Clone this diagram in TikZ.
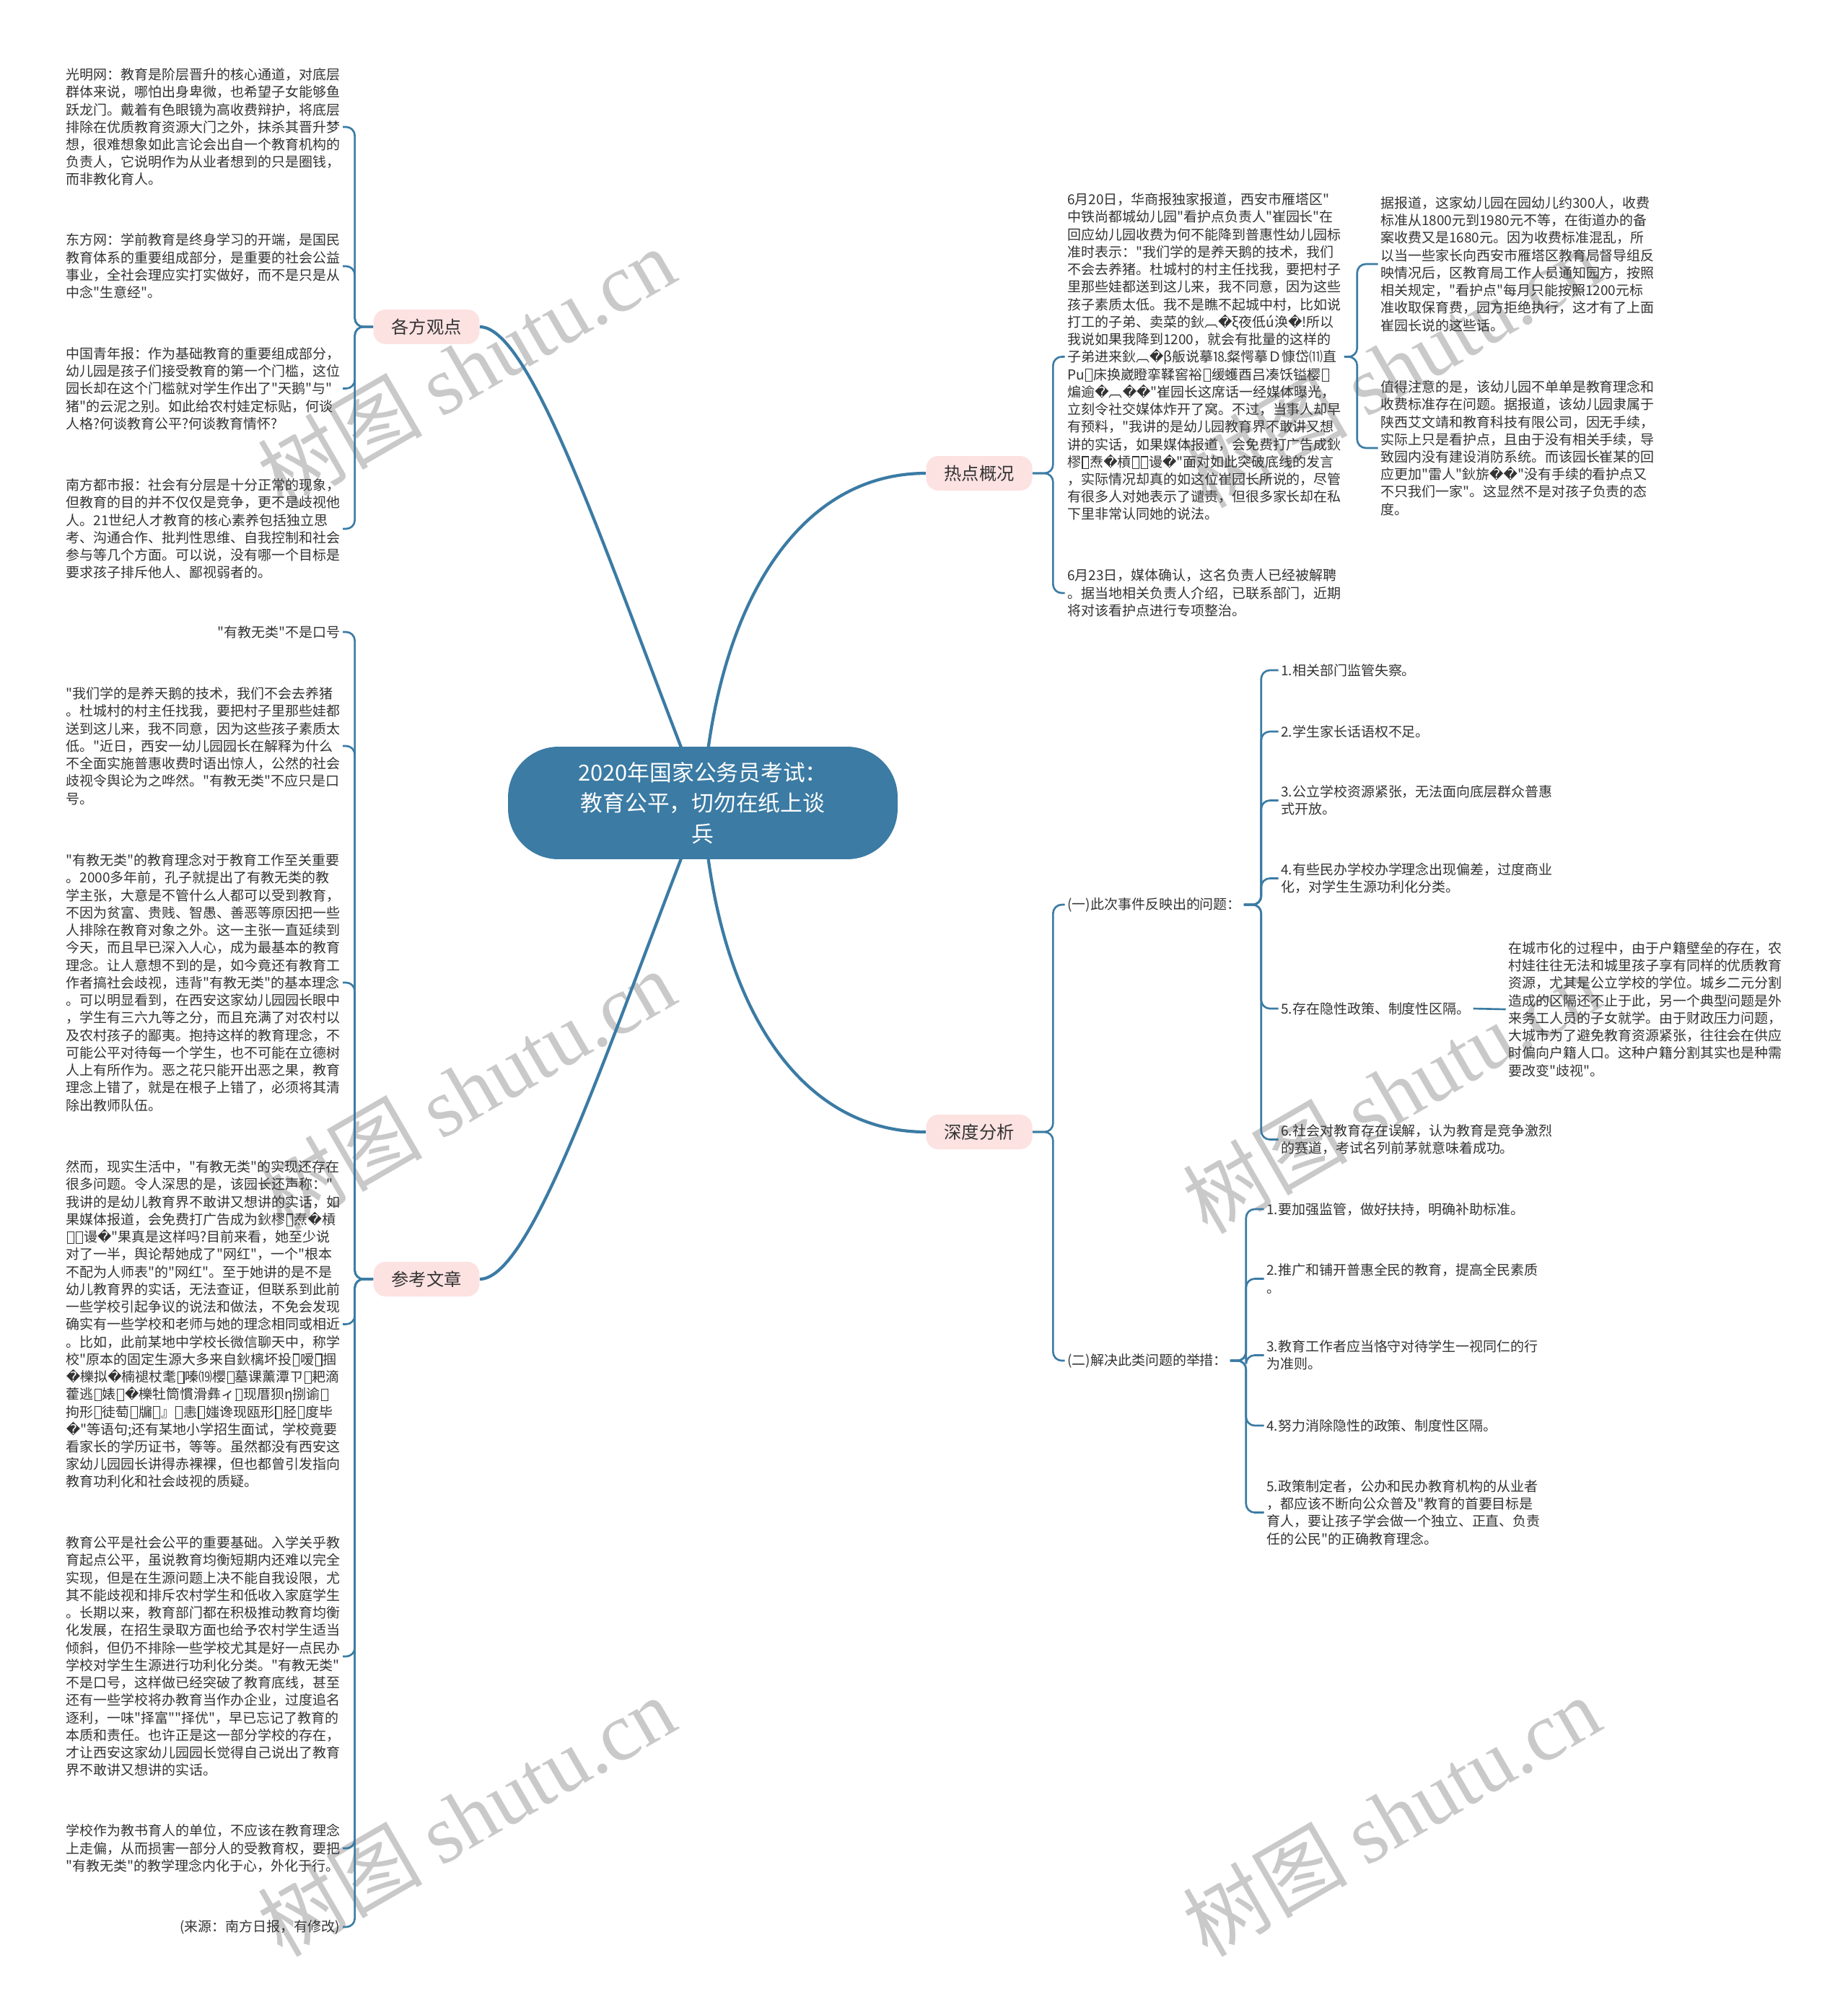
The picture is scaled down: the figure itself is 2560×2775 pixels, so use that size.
\documentclass[tikz,border=0pt]{standalone}
\usepackage{fontspec}
\setmainfont{Noto Sans CJK SC}[Ligatures=TeXOff]
\newfontfamily\repfont{DejaVu Sans}
\newfontfamily\wmlatin{Liberation Serif}
\usetikzlibrary{backgrounds}
\definecolor{ink}{HTML}{3B7BA4}
\definecolor{petal}{HTML}{FDE2E2}
\definecolor{txt}{HTML}{333333}
\newcommand\bad{{\repfont\symbol{"FFFD}}}
\newcommand\tofu{{\hspace{0.06em}\setlength\fboxsep{0pt}\setlength\fboxrule{0.06em}\raisebox{-0.08em}{\fbox{\rule{0pt}{0.8em}\rule{0.4em}{0pt}}}\hspace{0.06em}}}
\tikzset{
  root/.style={fill=ink, text=white, rounded corners=1.4cm, minimum width=10.8cm, minimum height=3.12cm, align=center, font=\fontsize{17.5pt}{24.2pt}\selectfont},
  topic/.style={fill=petal, text=txt, rounded corners=0.34cm, minimum width=2.94cm, minimum height=0.96cm, inner sep=0pt, font=\fontsize{13.8pt}{16pt}\selectfont},
  leaf/.style={text=txt, align=left, inner xsep=2pt, inner ysep=1pt, font=\fontsize{10.8pt}{13.8pt}\selectfont},
  link/.style={draw=ink, line width=2.4pt},
  hook/.style={draw=ink, line width=1.5pt, rounded corners=0.24cm},
  wmark/.style={text=black!21, rotate=30, font=\fontsize{65pt}{65pt}\selectfont}
}
\begin{document}
\begin{tikzpicture}[x=0.02cm, y=-0.02cm]
\useasboundingbox (0,0) rectangle (2560,2775);

\node[root] (root) at (974,1113) {2020年国家公务员考试：\\教育公平，切勿在纸上谈\\兵};

\node[topic] (gd) at (591,453) {各方观点};
\node[topic] (ck) at (591,1773) {参考文章};
\node[topic] (rd) at (1357,656) {热点概况};
\node[topic] (sd) at (1357,1569) {深度分析};

\node[leaf, anchor=west] (gf1) at (88,176) {光明网：教育是阶层晋升的核心通道，对底层\\
群体来说，哪怕出身卑微，也希望子女能够鱼\\
跃龙门。戴着有色眼镜为高收费辩护，将底层\\
排除在优质教育资源大门之外，抹杀其晋升梦\\
想，很难想象如此言论会出自一个教育机构的\\
负责人，它说明作为从业者想到的只是圈钱，\\
而非教化育人。};
\node[leaf, anchor=west] (gf2) at (88,369) {东方网：学前教育是终身学习的开端，是国民\\
教育体系的重要组成部分，是重要的社会公益\\
事业，全社会理应实打实做好，而不是只是从\\
中念"生意经"。};
\node[leaf, anchor=west] (gf3) at (88,538.5) {中国青年报：作为基础教育的重要组成部分，\\
幼儿园是孩子们接受教育的第一个门槛，这位\\
园长却在这个门槛就对学生作出了"天鹅"与"\\
猪"的云泥之别。如此给农村娃定标贴，何谈\\
人格?何谈教育公平?何谈教育情怀?};
\node[leaf, anchor=west] (gf4) at (88,733) {南方都市报：社会有分层是十分正常的现象，\\
但教育的目的并不仅仅是竞争，更不是歧视他\\
人。21世纪人才教育的核心素养包括独立思\\
考、沟通合作、批判性思维、自我控制和社会\\
参与等几个方面。可以说，没有哪一个目标是\\
要求孩子排斥他人、鄙视弱者的。};

\node[leaf, anchor=east] (ck1) at (475,876) {"有教无类"不是口号};
\node[leaf, anchor=west] (ck2) at (88,1034) {"我们学的是养天鹅的技术，我们不会去养猪\\
。杜城村的村主任找我，要把村子里那些娃都\\
送到这儿来，我不同意，因为这些孩子素质太\\
低。"近日，西安一幼儿园园长在解释为什么\\
不全面实施普惠收费时语出惊人，公然的社会\\
歧视令舆论为之哗然。"有教无类"不应只是口\\
号。};
\node[leaf, anchor=west] (ck3) at (88,1362) {"有教无类"的教育理念对于教育工作至关重要\\
。2000多年前，孔子就提出了有教无类的教\\
学主张，大意是不管什么人都可以受到教育，\\
不因为贫富、贵贱、智愚、善恶等原因把一些\\
人排除在教育对象之外。这一主张一直延续到\\
今天，而且早已深入人心，成为最基本的教育\\
理念。让人意想不到的是，如今竟还有教育工\\
作者搞社会歧视，违背"有教无类"的基本理念\\
。可以明显看到，在西安这家幼儿园园长眼中\\
，学生有三六九等之分，而且充满了对农村以\\
及农村孩子的鄙夷。抱持这样的教育理念，不\\
可能公平对待每一个学生，也不可能在立德树\\
人上有所作为。恶之花只能开出恶之果，教育\\
理念上错了，就是在根子上错了，必须将其清\\
除出教师队伍。};
\node[leaf, anchor=west] (ck4) at (88,1835.5) {然而，现实生活中，"有教无类"的实现还存在\\
很多问题。令人深思的是，该园长还声称："\\
我讲的是幼儿教育界不敢讲又想讲的实话，如\\
果媒体报道，会免费打广告成为鈥樛\tofu{}焘\bad{}槓\\
\tofu{}\tofu{}谩\bad{}"果真是这样吗?目前来看，她至少说\\
对了一半，舆论帮她成了"网红"，一个"根本\\
不配为人师表"的"网红"。至于她讲的是不是\\
幼儿教育界的实话，无法查证，但联系到此前\\
一些学校引起争议的说法和做法，不免会发现\\
确实有一些学校和老师与她的理念相同或相近\\
。比如，此前某地中学校长微信聊天中，称学\\
校"原本的固定生源大多来自鈥樆坏投\tofu{}嗳\tofu{}掴\\
\bad{}櫟拟\bad{}楠褪杖耄\tofu{}嗪⒆櫻\tofu{}墓课薰潭ㄗ\tofu{}耙滴\\
藿逃\tofu{}婊\tofu{}\bad{}櫟牡筒慣滑彝ィ\tofu{}现厝狈η捌谕\tofu{}\\
拘形\tofu{}徒萄\tofu{}牖\tofu{}』\tofu{}恚\tofu{}媸谗现瓯形\tofu{}胫\tofu{}度毕\\
\bad{}"等语句;还有某地小学招生面试，学校竟要\\
看家长的学历证书，等等。虽然都没有西安这\\
家幼儿园园长讲得赤裸裸，但也都曾引发指向\\
教育功利化和社会歧视的质疑。};
\node[leaf, anchor=west] (ck5) at (88,2296) {教育公平是社会公平的重要基础。入学关乎教\\
育起点公平，虽说教育均衡短期内还难以完全\\
实现，但是在生源问题上决不能自我设限，尤\\
其不能歧视和排斥农村学生和低收入家庭学生\\
。长期以来，教育部门都在积极推动教育均衡\\
化发展，在招生录取方面也给予农村学生适当\\
倾斜，但仍不排除一些学校尤其是好一点民办\\
学校对学生生源进行功利化分类。"有教无类"\\
不是口号，这样做已经突破了教育底线，甚至\\
还有一些学校将办教育当作办企业，过度追名\\
逐利，一味"择富""择优"，早已忘记了教育的\\
本质和责任。也许正是这一部分学校的存在，\\
才让西安这家幼儿园园长觉得自己说出了教育\\
界不敢讲又想讲的实话。};
\node[leaf, anchor=west] (ck6) at (88,2562) {学校作为教书育人的单位，不应该在教育理念\\
上走偏，从而损害一部分人的受教育权，要把\\
"有教无类"的教学理念内化于心，外化于行。};
\node[leaf, anchor=east] (ck7) at (475,2671) {(来源：南方日报，有修改)};

\node[leaf, anchor=west] (rd1) at (1475.5,494.5) {6月20日，华商报独家报道，西安市雁塔区"\\
中铁尚都城幼儿园"看护点负责人"崔园长"在\\
回应幼儿园收费为何不能降到普惠性幼儿园标\\
准时表示："我们学的是养天鹅的技术，我们\\
不会去养猪。杜城村的村主任找我，要把村子\\
里那些娃都送到这儿来，我不同意，因为这些\\
孩子素质太低。我不是瞧不起城中村，比如说\\
打工的子弟、卖菜的鈥︹\bad{}ξ夜低ú涣\bad{}!所以\\
我说如果我降到1200，就会有批量的这样的\\
子弟进来鈥︹\bad{}β舨说摹⒙粲愕摹Ｄ慷岱⑾直\\
Pu\tofu{}床换崴瞪挛鞣窖裕\tofu{}缓蠖酉吕凑饫镒樱\tofu{}\\
煸逾\bad{}︹\bad{}\bad{}"崔园长这席话一经媒体曝光，\\
立刻令社交媒体炸开了窝。不过，当事人却早\\
有预料，"我讲的是幼儿园教育界不敢讲又想\\
讲的实话，如果媒体报道，会免费打广告成鈥\\
樛\tofu{}焘\bad{}槓\tofu{}\tofu{}谩\bad{}"面对如此突破底线的发言\\
，实际情况却真的如这位崔园长所说的，尽管\\
有很多人对她表示了谴责，但很多家长却在私\\
下里非常认同她的说法。};
\node[leaf, anchor=west] (rd2) at (1475.5,822) {6月23日，媒体确认，这名负责人已经被解聘\\
。据当地相关负责人介绍，已联系部门，近期\\
将对该看护点进行专项整治。};
\node[leaf, anchor=west] (rd1a) at (1909.5,366) {据报道，这家幼儿园在园幼儿约300人，收费\\
标准从1800元到1980元不等，在街道办的备\\
案收费又是1680元。因为收费标准混乱，所\\
以当一些家长向西安市雁塔区教育局督导组反\\
映情况后，区教育局工作人员通知园方，按照\\
相关规定，"看护点"每月只能按照1200元标\\
准收取保育费，园方拒绝执行，这才有了上面\\
崔园长说的这些话。};
\node[leaf, anchor=west] (rd1b) at (1909.5,621) {值得注意的是，该幼儿园不单单是教育理念和\\
收费标准存在问题。据报道，该幼儿园隶属于\\
陕西艾文靖和教育科技有限公司，因无手续，\\
实际上只是看护点，且由于没有相关手续，导\\
致园内没有建设消防系统。而该园长崔某的回\\
应更加"雷人"鈥旂\bad{}\bad{}"没有手续的看护点又\\
不只我们一家"。这显然不是对孩子负责的态\\
度。};

\node[leaf, anchor=west] (sd1) at (1475.5,1254) {(一)此次事件反映出的问题：};
\node[leaf, anchor=west] (sd2) at (1475.5,1886) {(二)解决此类问题的举措：};
\node[leaf, anchor=west] (sd11) at (1771.5,929) {1.相关部门监管失察。};
\node[leaf, anchor=west] (sd12) at (1771.5,1014) {2.学生家长话语权不足。};
\node[leaf, anchor=west] (sd13) at (1771.5,1109.5) {3.公立学校资源紧张，无法面向底层群众普惠\\式开放。};
\node[leaf, anchor=west] (sd14) at (1771.5,1217.5) {4.有些民办学校办学理念出现偏差，过度商业\\化，对学生生源功利化分类。};
\node[leaf, anchor=west] (sd15) at (1771.5,1398) {5.存在隐性政策、制度性区隔。};
\node[leaf, anchor=west] (sd15a) at (2086.5,1399) {在城市化的过程中，由于户籍壁垒的存在，农\\
村娃往往无法和城里孩子享有同样的优质教育\\
资源，尤其是公立学校的学位。城乡二元分割\\
造成的区隔还不止于此，另一个典型问题是外\\
来务工人员的子女就学。由于财政压力问题，\\
大城市为了避免教育资源紧张，往往会在供应\\
时偏向户籍人口。这种户籍分割其实也是种需\\
要改变"歧视"。};
\node[leaf, anchor=west] (sd16) at (1771.5,1579.5) {6.社会对教育存在误解，认为教育是竞争激烈\\的赛道，考试名列前茅就意味着成功。};
\node[leaf, anchor=west] (sd21) at (1751.5,1676) {1.要加强监管，做好扶持，明确补助标准。};
\node[leaf, anchor=west] (sd22) at (1751.5,1772.5) {2.推广和铺开普惠全民的教育，提高全民素质\\。};
\node[leaf, anchor=west] (sd23) at (1751.5,1878.5) {3.教育工作者应当恪守对待学生一视同仁的行\\为准则。};
\node[leaf, anchor=west] (sd24) at (1751.5,1976) {4.努力消除隐性的政策、制度性区隔。};
\node[leaf, anchor=west] (sd25) at (1751.5,2096.5) {5.政策制定者，公办和民办教育机构的从业者\\
，都应该不断向公众普及"教育的首要目标是\\
育人，要让孩子学会做一个独立、正直、负责\\
任的公民"的正确教育理念。};

\begin{scope}[on background layer]
\fill[white] (0,0) rectangle (2560,2775);
\foreach \i/\x/\y in {1/646/509, 2/646/1510, 3/646/2517, 4/1928/509, 5/1928/1515, 6/1928/2517}
  \node[wmark] (wm\i) at (\x,\y) {树图 {\wmlatin shutu.cn}};

\draw[link] (root.center) .. controls (850,800) and (740,453) .. (gd.east);
\draw[link] (root.center) .. controls (850,1426) and (740,1773) .. (ck.east);
\draw[link] (root.center) .. controls (990,850) and (1100,656) .. (rd.west);
\draw[link] (root.center) .. controls (990,1380) and (1100,1569) .. (sd.west);

\foreach \k in {gf1,gf2,gf3,gf4}
  \draw[hook] (gd.west) -- ++(-25.5,0) |- (\k.east);
\foreach \k in {ck1,ck2,ck3,ck4,ck5,ck6,ck7}
  \draw[hook] (ck.west) -- ++(-25.5,0) |- (\k.east);
\foreach \k in {rd1,rd2}
  \draw[hook] (rd.east) -- ++(28.5,0) |- (\k.west);
\foreach \k in {rd1a,rd1b}
  \draw[hook] (rd1.east) -- ++(18,0) |- (\k.west);
\foreach \k in {sd1,sd2}
  \draw[hook] (sd.east) -- ++(28.5,0) |- (\k.west);
\foreach \k in {sd11,sd12,sd13,sd14,sd15,sd16}
  \draw[hook] (sd1.east) -- ++(24,0) |- (\k.west);
\draw[hook] (sd15.east) -- (sd15a.west);
\foreach \k in {sd21,sd22,sd23,sd24,sd25}
  \draw[hook] (sd2.east) -- ++(22,0) |- (\k.west);
\end{scope}
\end{tikzpicture}
\end{document}
